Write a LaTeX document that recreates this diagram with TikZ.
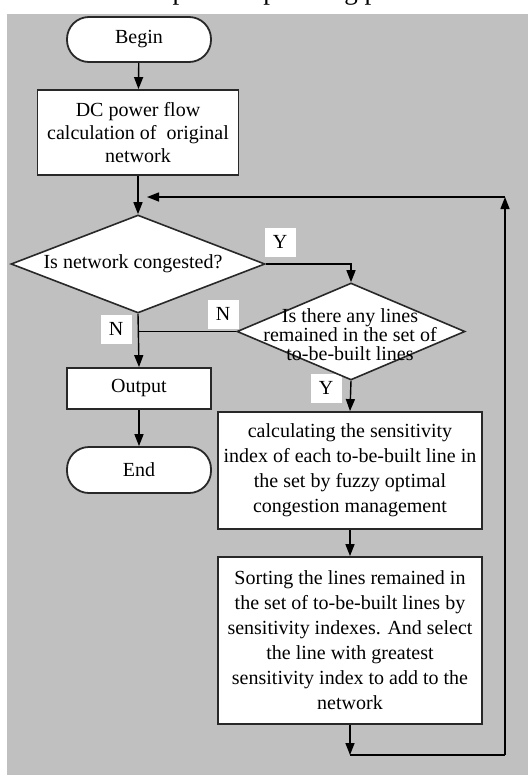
\documentclass[tikz,border=0pt]{standalone}
\usepackage{fontspec}
\setmainfont{Liberation Serif}
\usetikzlibrary{shapes.geometric,arrows.meta}
\definecolor{bg}{RGB}{192,192,192}
\definecolor{edge}{RGB}{40,40,40}
\begin{document}
\begin{tikzpicture}[x=1pt,y=-1pt,
  every node/.style={font=\fontsize{20}{25}\selectfont},
  ln/.style={draw=black, line width=1.4pt},
  arr/.style={ln, -{Triangle[length=12pt,width=9pt]}},
  box/.style={draw=edge, line width=1.8pt, fill=white, align=center, inner sep=0pt},
  term/.style={box, rounded corners=22pt},
  dia/.style={draw=edge, line width=1.6pt, fill=white, shape=diamond, inner sep=0pt},
  lab/.style={fill=white, minimum width=31pt, minimum height=29pt, inner sep=0pt}
]
\useasboundingbox (0,0) rectangle (528,777);
\fill[white] (0,0) rectangle (528,777);
\begin{scope}
  \clip (0,0) rectangle (528,14);
  \node[anchor=base west, inner sep=0pt, font=\fontsize{27}{30}\selectfont] (cap) at (147,-1) {expansion planning process};
\end{scope}
\fill[bg] (7,14) rectangle (528,775);

% labels
\node[lab] (y1) at (280,242) {Y};
\node[lab] (n1) at (116,329) {N};
\node[lab] (n2) at (223,314) {N};
\node[lab] (y2) at (326,388) {Y};

% nodes
\node[term, minimum width=144pt, minimum height=45pt] (begin) at (139,39.5) {Begin};
\node[box, minimum width=201pt, minimum height=85pt, font=\fontsize{20}{23}\selectfont] (dc) at (138,132.5) {DC power flow\\calculation of \ original\\network};
\node[dia, minimum width=254pt, minimum height=98pt] (d1) at (138,264) {};
\node[inner sep=0pt] (d1t) at (133,264) {Is network congested?};
\node[dia, minimum width=228pt, minimum height=97pt] (d2) at (351,331.5) {};
\node[inner sep=0pt, align=center, font=\fontsize{20}{19}\selectfont] (d2t) at (350,335) {Is there any lines\\remained in the set of\\to-be-built lines};
\node[box, minimum width=144pt, minimum height=41pt] (out) at (139,388.5) {Output};
\node[term, minimum width=144pt, minimum height=46pt] (end) at (139,470) {End};
\node[box, minimum width=264pt, minimum height=117pt] (b3) at (350,470.5) {calculating the sensitivity\\index of each to-be-built line in\\the set by fuzzy optimal\\congestion management};
\node[box, minimum width=264pt, minimum height=167pt] (b4) at (350,640.5) {Sorting the lines remained in\\the set of to-be-built lines by\\sensitivity indexes. And select\\the line with greatest\\sensitivity index to add to the\\network};

% coordinates
\coordinate (m1) at (138,197);
\coordinate (m2) at (147,197);
\coordinate (c1) at (350,755);
\coordinate (c2) at (505,755);
\coordinate (c3) at (505,197);

% connectors
\draw[arr] (begin) -- (dc);
\draw[ln] (dc.south) -- (m1);
\draw[arr] (m1) -- (d1.north);
\draw[arr] (d1.east) -| (d2.north);
\draw[ln] (d2.west) -- (d2.west -| d1.south);
\draw[arr] (d1.south) -- (out.north);
\draw[arr] (out) -- (end);
\draw[arr] (d2.south) -- (b3.north);
\draw[arr] (b3) -- (b4);
\draw[arr] (b4.south) -- (c1);
\draw[ln] (c1) -- (c2);
\draw[arr] (c2) -- (c3);
\draw[arr] (c3) -- (m2);
\end{tikzpicture}
\end{document}
